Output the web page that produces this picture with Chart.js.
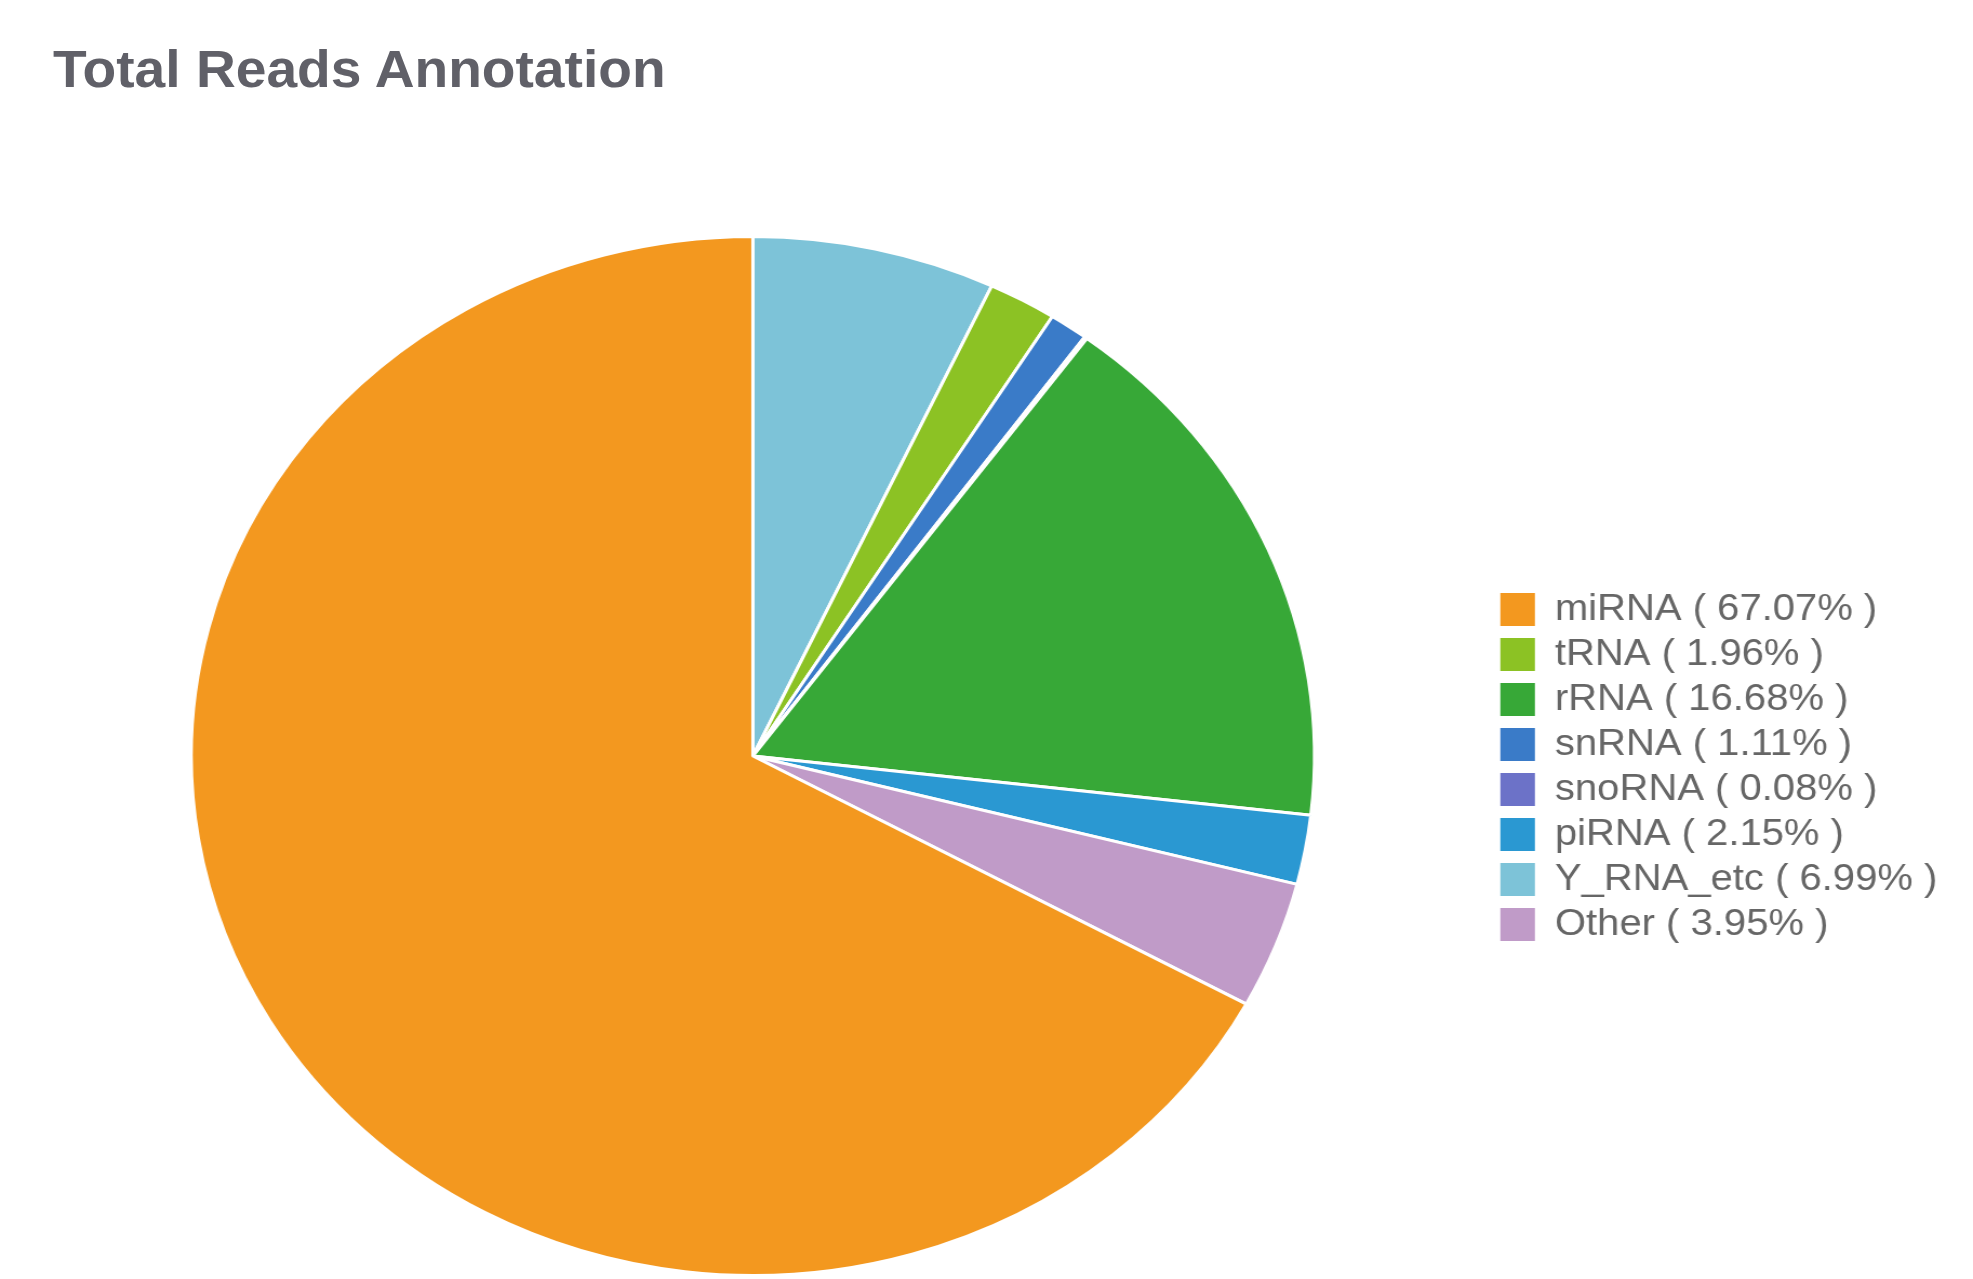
<!DOCTYPE html>
<html>
<head>
<meta charset="utf-8">
<script src="https://cdn.jsdelivr.net/npm/chart.js@4/dist/chart.umd.min.js"></script>
<style>
  body { margin: 0; background: #fff; overflow: hidden; }
  #title {
    position: absolute; left: 53px; top: 44px; margin: 0;
    font: bold 51px "Liberation Sans", Arial, sans-serif; line-height: 1;
    color: #606068;
    transform: scaleX(1.081); transform-origin: left top;
  }
  #readsChart { position: absolute; left: 0; top: 0; }
</style>
</head>
<body>
<div id="title">Total Reads Annotation</div>
<!-- the source picture is a bit wider than tall, so the canvas is drawn narrow and stretched -->
<canvas id="readsChart" width="1825" height="1279" style="width:1973px;height:1279px"></canvas>
<script>
// slices in drawing order, clockwise from 12 o'clock
const labels = ["Y_RNA_etc", "tRNA", "snRNA", "snoRNA", "rRNA", "piRNA", "Other", "miRNA"];
const percents = [6.99, 1.96, 1.11, 0.08, 16.68, 2.15, 3.95, 67.07];
const colors = ["#7dc3d8", "#8cc224", "#3a7bc8", "#6c72c8", "#37a837", "#2a98d2", "#c09bc8", "#f3981f"];

// order the legend is listed in
const legendOrder = ["miRNA", "tRNA", "rRNA", "snRNA", "snoRNA", "piRNA", "Y_RNA_etc", "Other"];

const ctx = document.getElementById("readsChart").getContext("2d");

new Chart(ctx, {
  type: "pie",
  data: {
    labels: labels,
    datasets: [{
      data: percents,
      backgroundColor: colors,
      borderColor: "#ffffff",
      borderWidth: 3
    }]
  },
  options: {
    responsive: false,
    animation: false,
    layout: {
      padding: { top: 235, bottom: 2, left: 13, right: 23 }
    },
    plugins: {
      tooltip: { enabled: false },
      legend: {
        position: "right",
        // empty title only nudges the list a little lower
        title: { display: true, text: "", font: { size: 10 }, padding: 5 },
        labels: {
          boxWidth: 32,
          boxHeight: 33,
          padding: 8,
          color: "#6b6b70",
          font: { family: "'Liberation Sans', Arial, sans-serif", size: 37 },
          generateLabels: chart => {
            const ds = chart.data.datasets[0];
            return chart.data.labels.map((name, i) => ({
              text: name + " ( " + ds.data[i].toFixed(2) + "% )",
              fillStyle: ds.backgroundColor[i],
              strokeStyle: ds.backgroundColor[i],
              lineWidth: 0,
              hidden: false,
              index: i
            }));
          },
          sort: (a, b) => legendOrder.indexOf(labels[a.index]) - legendOrder.indexOf(labels[b.index])
        }
      }
    }
  }
});
</script>
</body>
</html>
